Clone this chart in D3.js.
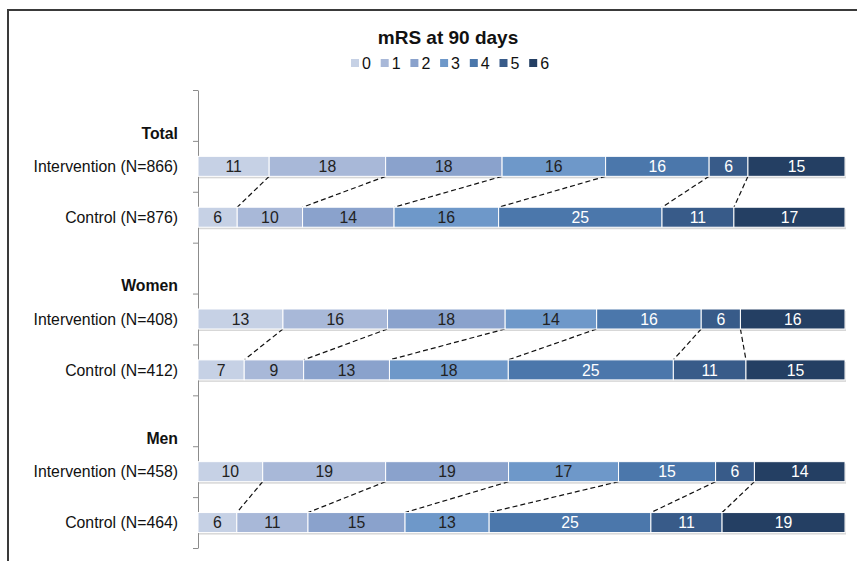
<!DOCTYPE html>
<html>
<head>
<meta charset="utf-8">
<script src="https://cdn.jsdelivr.net/npm/d3@7"></script>
<style>
  body { margin: 0; background: #fff; }
  svg { font-family: "Liberation Sans", Arial, sans-serif; }
</style>
</head>
<body>
<div id="chart"></div>
<script>
// mRS categories and fills
var mrsLevels = ["0", "1", "2", "3", "4", "5", "6"];
var mrsColors = ["#c6d1e5", "#a8b8d8", "#8aa2cc", "#6e98c9", "#4b77ab", "#385b89", "#243f63"];

var groupNames = ["Total", "Women", "Men"];
var rowLabels = ["Intervention (N=866)", "Control (N=876)",
                 "Intervention (N=408)", "Control (N=412)",
                 "Intervention (N=458)", "Control (N=464)"];
// percent per mRS level, one array per row
var rowValues = [
    [11, 18, 18, 16, 16, 6, 15],
    [6, 10, 14, 16, 25, 11, 17],
    [13, 16, 18, 14, 16, 6, 16],
    [7, 9, 13, 18, 25, 11, 15],
    [10, 19, 19, 17, 15, 6, 14],
    [6, 11, 15, 13, 25, 11, 19]
];

var width = 857, height = 561;
var svg = d3.select("#chart").append("svg")
    .attr("width", width)
    .attr("height", height);

// outer frame (runs off the right and bottom edge)
svg.append("rect")
    .attr("x", 8).attr("y", 10)
    .attr("width", 900).attr("height", 600)
    .attr("fill", "none")
    .attr("stroke", "#3a3a3a")
    .attr("stroke-width", 2);

// band order: header, intervention, control for each group
var bandDomain = [];
groupNames.forEach(function(g, i) {
    bandDomain.push(g);
    bandDomain.push(rowLabels[i * 2]);
    bandDomain.push(rowLabels[i * 2 + 1]);
});

var y = d3.scaleBand().domain(bandDomain).range([90, 548]).padding(0);
var x = d3.scaleLinear().domain([0, 1]).range([198, 845]);
var barH = 20;

var rows = rowLabels.map(function(label, i) {
    var o = {label: label};
    mrsLevels.forEach(function(k, j) { o[k] = rowValues[i][j]; });
    return o;
});

var series = d3.stack().keys(mrsLevels).offset(d3.stackOffsetExpand)(rows);

// title + legend
svg.append("text")
    .attr("x", 448).attr("y", 37)
    .attr("dy", "0.36em")
    .attr("text-anchor", "middle")
    .attr("font-size", "19px")
    .attr("font-weight", "bold")
    .attr("fill", "#111")
    .text("mRS at 90 days");

var legend = svg.append("g").attr("transform", "translate(351,63)");
var item = legend.selectAll("g").data(mrsLevels).enter().append("g")
    .attr("transform", function(d, i) { return "translate(" + (i * 29.7) + ",0)"; });
item.append("rect")
    .attr("x", 0).attr("y", -4)
    .attr("width", 8).attr("height", 8)
    .attr("fill", function(d, i) { return mrsColors[i]; });
item.append("text")
    .attr("x", 11).attr("y", 0)
    .attr("dy", "0.36em")
    .attr("font-size", "16px")
    .attr("fill", "#111")
    .text(function(d) { return d; });

// y axis with ticks on category boundaries
var boundary = d3.scaleLinear().domain([0, bandDomain.length]).range([90, 548]);
svg.append("g")
    .attr("transform", "translate(198,0)")
    .call(d3.axisLeft(boundary).ticks(bandDomain.length).tickFormat("").tickSizeInner(5).tickSizeOuter(0))
    .call(function(g) {
        g.selectAll("path, line").attr("stroke", "#8c8c8c");
    });

// category labels
svg.append("g").selectAll("text").data(rowLabels).enter().append("text")
    .attr("x", 178)
    .attr("y", function(d) { return y(d) + y.bandwidth() / 2; })
    .attr("dy", "0.36em")
    .attr("text-anchor", "end")
    .attr("font-size", "15.8px")
    .attr("fill", "#111")
    .text(function(d) { return d; });

svg.append("g").selectAll("text").data(groupNames).enter().append("text")
    .attr("x", 178)
    .attr("y", function(d) { return y(d) + y.bandwidth() - 8; })
    .attr("dy", "0.36em")
    .attr("text-anchor", "end")
    .attr("font-size", "15.8px")
    .attr("font-weight", "bold")
    .attr("fill", "#111")
    .text(function(d) { return d; });

function barTop(d) { return y(d.data.label) + y.bandwidth() / 2 - barH / 2; }

// soft shadow under each bar
svg.append("g").selectAll("rect").data(rows).enter().append("rect")
    .attr("x", x(0) + 1)
    .attr("y", function(d) { return y(d.label) + y.bandwidth() / 2 - barH / 2 + 2; })
    .attr("width", x(1) - x(0))
    .attr("height", barH)
    .attr("fill", "#bdbdbd")
    .attr("opacity", 0.6);

// dashed series lines between intervention and control
var links = [];
for (var r = 0; r < rows.length; r += 2) {
    for (var s = 0; s < series.length - 1; s++) {
        links.push({top: series[s][r], bottom: series[s][r + 1]});
    }
}
svg.append("g").selectAll("line").data(links).enter().append("line")
    .attr("x1", function(d) { return x(d.top[1]); })
    .attr("y1", function(d) { return barTop(d.top) + barH; })
    .attr("x2", function(d) { return x(d.bottom[1]); })
    .attr("y2", function(d) { return barTop(d.bottom); })
    .attr("stroke", "#111")
    .attr("stroke-width", 1.2)
    .attr("stroke-dasharray", "5 3");

// stacked segments
var layer = svg.append("g").selectAll("g").data(series).enter().append("g")
    .attr("fill", function(d, i) { return mrsColors[i]; });

layer.selectAll("rect").data(function(d) { return d; }).enter().append("rect")
    .attr("x", function(d) { return x(d[0]); })
    .attr("y", barTop)
    .attr("width", function(d) { return x(d[1]) - x(d[0]); })
    .attr("height", barH)
    .attr("stroke", "#fff")
    .attr("stroke-width", 1);

layer.selectAll("text").data(function(d, i) {
        return d.map(function(p) { return {p: p, k: i}; });
    }).enter().append("text")
    .attr("x", function(d) { return (x(d.p[0]) + x(d.p[1])) / 2; })
    .attr("y", function(d) { return barTop(d.p) + barH / 2; })
    .attr("dy", "0.36em")
    .attr("text-anchor", "middle")
    .attr("font-size", "15.8px")
    .attr("fill", function(d) { return d.k >= 4 ? "#fff" : "#222"; })
    .text(function(d) { return d.p.data[mrsLevels[d.k]]; });
</script>
</body>
</html>
